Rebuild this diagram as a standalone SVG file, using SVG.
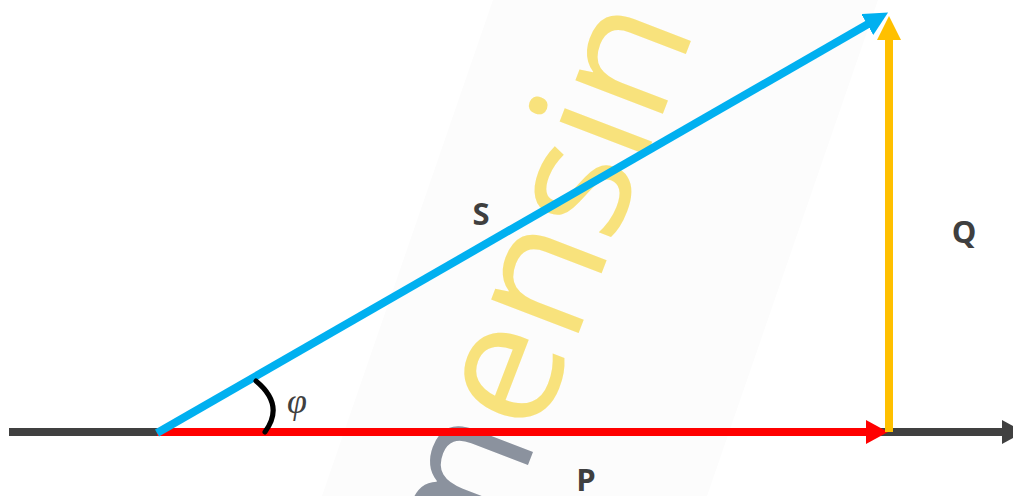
<svg xmlns="http://www.w3.org/2000/svg" width="1013" height="496" viewBox="0 0 1013 496">
  <style>
    .lbl { font-family: "Open Sans", "Liberation Sans", sans-serif; font-weight: bold; font-size: 31px; fill: #3f3f3f; text-anchor: middle; }
    .vec { fill: none; stroke-width: 8; stroke-linecap: butt; }
    .wm { font-family: "Open Sans", "Liberation Sans", sans-serif; font-weight: 400; font-size: 175px; }
  </style>
  <defs>
    <marker id="headRed" markerUnits="userSpaceOnUse" markerWidth="22" markerHeight="24" viewBox="0 0 22 24" refX="2" refY="12" orient="auto">
      <path d="M0,0 L22,12 L0,24 z" fill="#FF0000"/>
    </marker>
    <marker id="headBlue" markerUnits="userSpaceOnUse" markerWidth="24" markerHeight="24" viewBox="0 0 24 24" refX="2" refY="12" orient="auto">
      <path d="M0,0 L24,12 L0,24 z" fill="#00B0F0"/>
    </marker>
    <marker id="headYellow" markerUnits="userSpaceOnUse" markerWidth="24" markerHeight="24" viewBox="0 0 24 24" refX="2" refY="12" orient="auto">
      <path d="M0,0 L24,12 L0,24 z" fill="#FFC000"/>
    </marker>
    <marker id="headGray" markerUnits="userSpaceOnUse" markerWidth="22" markerHeight="24" viewBox="0 0 22 24" refX="2" refY="12" orient="auto">
      <path d="M0,0 L22,12 L0,24 z" fill="#404040"/>
    </marker>
  </defs>

  <rect width="1013" height="496" fill="#ffffff"/>

  <g id="watermark">
    <polygon points="493,0 878,0 707,496 322,496" fill="#fcfcfc"/>
    <text class="wm" transform="translate(480,590) rotate(-69)"><tspan fill="#8b929e">m</tspan><tspan fill="#f8e27c">ensin</tspan></text>
  </g>

  <g id="connectors">
    <line id="axis" class="vec" x1="9" y1="432" x2="1004" y2="432" stroke="#404040" marker-end="url(#headGray)"/>
    <line id="vecP" class="vec" x1="157" y1="432" x2="868" y2="432" stroke="#FF0000" marker-end="url(#headRed)"/>
    <line id="vecQ" class="vec" x1="889" y1="432" x2="889" y2="38" stroke="#FFC000" marker-end="url(#headYellow)"/>
    <line id="vecS" class="vec" x1="157" y1="433" x2="869" y2="23.5" stroke="#00B0F0" stroke-width="7" marker-end="url(#headBlue)"/>
    <path id="angleArc" d="M256,381 Q285,405 265,432" fill="none" stroke="#000000" stroke-width="5" stroke-linecap="round"/>
  </g>

  <g id="labelS"><text class="lbl" x="481" y="225">S</text></g>
  <g id="labelQ"><text class="lbl" x="964" y="243">Q</text></g>
  <g id="labelP"><text class="lbl" x="586" y="491">P</text></g>
  <g id="labelPhi"><text x="287" y="413" font-family="Liberation Serif, serif" font-style="italic" font-size="36" fill="#404040">φ</text></g>
</svg>
